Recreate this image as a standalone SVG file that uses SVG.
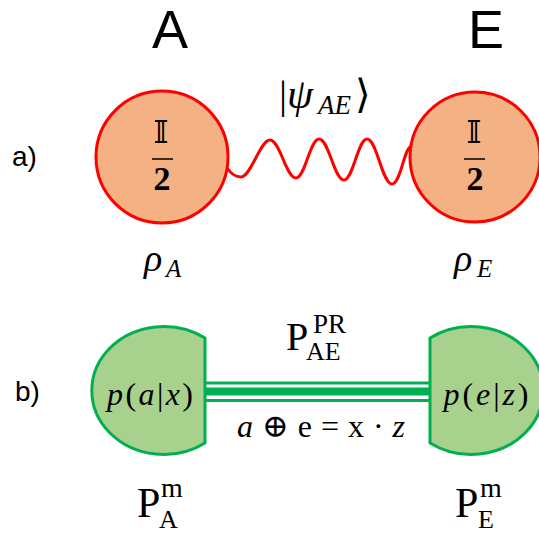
<svg xmlns="http://www.w3.org/2000/svg" width="539" height="533" viewBox="0 0 539 533">
<style>
.sans{font-family:"Liberation Sans",Arial,sans-serif;fill:#000}
.m{font-family:"Liberation Serif","DejaVu Serif",serif;fill:#000}
.it{font-style:italic}
.state{fill:#F4B183;stroke:#FF0000;stroke-width:3}
.meas{fill:#A9D18E;stroke:#00B050;stroke-width:3}
.wave{fill:none;stroke:#FF0000;stroke-width:3}
.pr{stroke:#00B050;fill:none}
</style>
<rect width="539" height="533" fill="#fff"/>
<text class="sans" x="170" y="48" font-size="54" text-anchor="middle">A</text>
<text class="sans" x="486" y="48" font-size="54" text-anchor="middle">E</text>
<text class="sans" x="12" y="166" font-size="28">a)</text>
<text class="sans" x="15" y="401" font-size="28">b)</text>

<g id="connectors">
<path class="wave" d="M227,168 C232,175 236,177 241,177 C251,177 260,140 270,140 C280,140 286,178 296,178 C305,178 310,139 319,139 C329,139 334,180 344,180 C353,180 358,139 367,139 C377,139 382,184 392,184 C401,184 404,146 412,146 C414,146 415,144 416,143"/>
<g class="pr">
<line x1="205" y1="383" x2="430" y2="383" stroke-width="3"/>
<line x1="205" y1="391.5" x2="430" y2="391.5" stroke-width="8"/>
<line x1="205" y1="400.5" x2="430" y2="400.5" stroke-width="3"/>
</g>
<text class="m" font-size="40"><tspan x="279" y="108">|</tspan><tspan class="it" x="287" y="108" font-size="42">ψ</tspan><tspan class="it" x="318" y="114" font-size="27">AE</tspan><tspan x="355" y="108">⟩</tspan></text>
<text class="m" font-size="40"><tspan x="286" y="350">P</tspan><tspan x="313" y="333" font-size="27">PR</tspan><tspan x="306" y="360" font-size="26">AE</tspan></text>
<text class="m" x="237" y="437" font-size="32" textLength="168" lengthAdjust="spacing"><tspan class="it">a</tspan> ⊕ e = x · <tspan class="it">z</tspan></text>
</g>

<g id="nodeA_state">
<circle class="state" cx="162" cy="157" r="66"/>
<text class="m" x="161" y="143" font-size="32" text-anchor="middle">𝕀</text>
<line x1="152" y1="159" x2="173" y2="159" stroke="#000" stroke-width="1.5"/>
<text class="m" x="162" y="190" font-size="34" font-weight="bold" text-anchor="middle">2</text>
<text class="m it" font-size="38"><tspan x="144" y="271">ρ</tspan><tspan x="166" y="277" font-size="25">A</tspan></text>
</g>

<g id="nodeE_state">
<circle class="state" cx="475" cy="157" r="65"/>
<text class="m" x="474" y="143" font-size="32" text-anchor="middle">𝕀</text>
<line x1="464" y1="159" x2="485" y2="159" stroke="#000" stroke-width="1.5"/>
<text class="m" x="475" y="190" font-size="34" font-weight="bold" text-anchor="middle">2</text>
<text class="m it" font-size="38"><tspan x="454" y="271">ρ</tspan><tspan x="477" y="277" font-size="25">E</tspan></text>
</g>

<g id="nodeA_meas">
<path class="meas" d="M205,338 A72 64 0 1 0 205,443 Z"/>
<text class="m" x="150" y="405" font-size="32" text-anchor="middle" textLength="86" lengthAdjust="spacing"><tspan class="it">p</tspan>(<tspan class="it">a</tspan>|<tspan class="it">x</tspan>)</text>
<text class="m" font-size="42"><tspan x="137" y="517">P</tspan><tspan x="161" y="497" font-size="28">m</tspan><tspan x="159" y="528" font-size="26">A</tspan></text>
</g>

<g id="nodeE_meas">
<path class="meas" d="M430,338 A72 64 0 1 1 430,443 Z"/>
<text class="m" x="486" y="405" font-size="32" text-anchor="middle" textLength="85" lengthAdjust="spacing"><tspan class="it">p</tspan>(<tspan class="it">e</tspan>|<tspan class="it">z</tspan>)</text>
<text class="m" font-size="42"><tspan x="455" y="517">P</tspan><tspan x="480" y="497" font-size="28">m</tspan><tspan x="478" y="528" font-size="26">E</tspan></text>
</g>
</svg>
